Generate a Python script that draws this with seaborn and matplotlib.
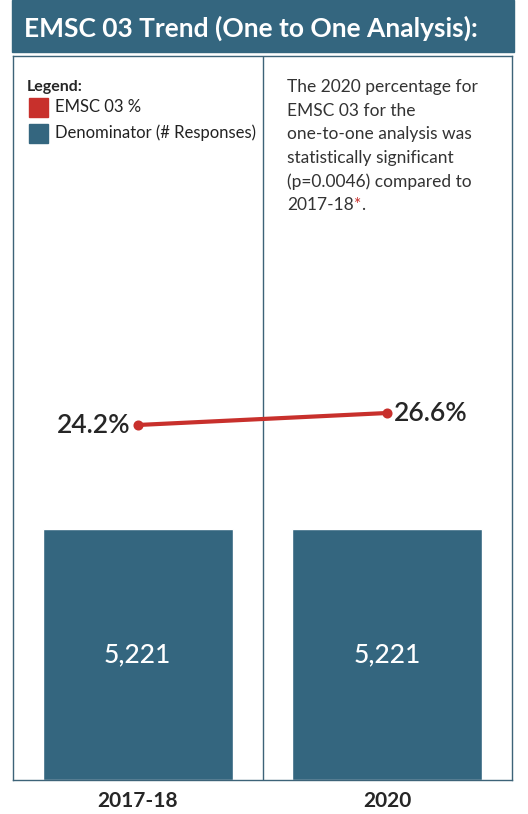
import pandas as pd
import numpy as np
import matplotlib
matplotlib.use("Agg")
import matplotlib.pyplot as plt
from matplotlib.patches import Rectangle
import seaborn as sns

# --- data ---
periods = ["2017-18", "2020"]
responses = [5221, 5221]
emsc_pct = [24.2, 26.6]
legend_labels = ["EMSC 03 %", "Denominator (# Responses)"]

TEAL = "#34667f"
RED = "#c8302c"
EDGE = "#3d6378"
W, H = 528, 814

sns.set_style("white")
plt.rcParams["font.family"] = ["Lato", "DejaVu Sans"]

df = pd.DataFrame({"period": periods, "responses": responses, "pct": emsc_pct})

fig = plt.figure(figsize=(W / 100, H / 100), dpi=100)

def fx(px):
    return px / W

def fy(py):
    return 1 - py / H

# --- title bar ---
fig.patches.append(Rectangle((fx(12), fy(52)), 502 / W, 52 / H,
                             transform=fig.transFigure, color=TEAL, zorder=0))
fig.text(fx(24), fy(28), "EMSC 03 Trend (One to One Analysis):",
         color="white", fontsize=19, fontweight="bold", ha="left", va="center")

# --- main panel ---
ax = fig.add_axes([fx(13), fy(780), 499 / W, 724 / H])
sns.barplot(data=df, x="period", y="responses", color=TEAL, width=0.76,
            saturation=1, ax=ax)
ax.set_ylim(0, 15060)
ax.set_xlim(-0.5, 1.5)
for i, v in enumerate(responses):
    ax.text(i, v / 2, f"{v:,}", color="white", fontsize=19,
            ha="center", va="center", fontweight="medium")
ax.axvline(0.5, color=EDGE, lw=1)
for s in ax.spines.values():
    s.set_color(EDGE)
    s.set_linewidth(1)
ax.set_yticks([])
ax.set_xlabel("")
ax.set_ylabel("")
ax.tick_params(axis="x", length=0, pad=8, labelsize=15)
for lab in ax.get_xticklabels():
    lab.set_fontweight("bold")

# line on its own scale
ax2 = ax.twinx()
sns.pointplot(data=df, x="period", y="pct", color=RED, markers="o",
              markersize=5, linewidth=3, ax=ax2)
ax2.set_ylim(-46.8, 98.0)
ax2.set_xlim(-0.5, 1.5)
ax2.set_yticks([])
ax2.set_ylabel("")
ax2.set_xlabel("")
for s in ax2.spines.values():
    s.set_visible(False)
ax2.annotate(f"{emsc_pct[0]}%", (0, emsc_pct[0]), xytext=(-5, 0),
             textcoords="offset points", ha="right", va="center",
             fontsize=19, fontweight="semibold")
ax2.annotate(f"{emsc_pct[1]}%", (1, emsc_pct[1]), xytext=(5, 0),
             textcoords="offset points", ha="left", va="center",
             fontsize=19, fontweight="semibold")

# legend, drawn by hand
fig.text(fx(27), fy(87), "Legend:", fontsize=11.5, fontweight="bold",
         ha="left", va="center")
for k, (lab, col) in enumerate(zip(legend_labels, [RED, TEAL])):
    top = 98 + k * 25.5
    fig.patches.append(Rectangle((fx(29), fy(top + 19)), 19 / W, 19 / H,
                                 transform=fig.transFigure, color=col))
    fig.text(fx(55), fy(top + 9.5), lab, fontsize=12, ha="left", va="center",
             color="#222222")

# annotation on the right
note = ["The 2020 percentage for", "EMSC 03 for the",
        "one-to-one analysis was", "statistically significant",
        "(p=0.0046) compared to"]
step = 23.6
for k, line in enumerate(note):
    fig.text(fx(287), fy(87 + k * step), line, fontsize=12.5,
             color="#333333", ha="left", va="center")
t = fig.text(fx(287), fy(87 + 5 * step), "2017-18", fontsize=12.5,
             color="#333333", ha="left", va="center")
star = plt.annotate("*", xy=(1, 0), xycoords=t, va="bottom", ha="left",
                    fontsize=12.5, color=RED, annotation_clip=False)
plt.annotate(".", xy=(1, 0), xycoords=star, va="bottom", ha="left",
             fontsize=12.5, color="#333333", annotation_clip=False)

fig.savefig("out.png", dpi=100)
